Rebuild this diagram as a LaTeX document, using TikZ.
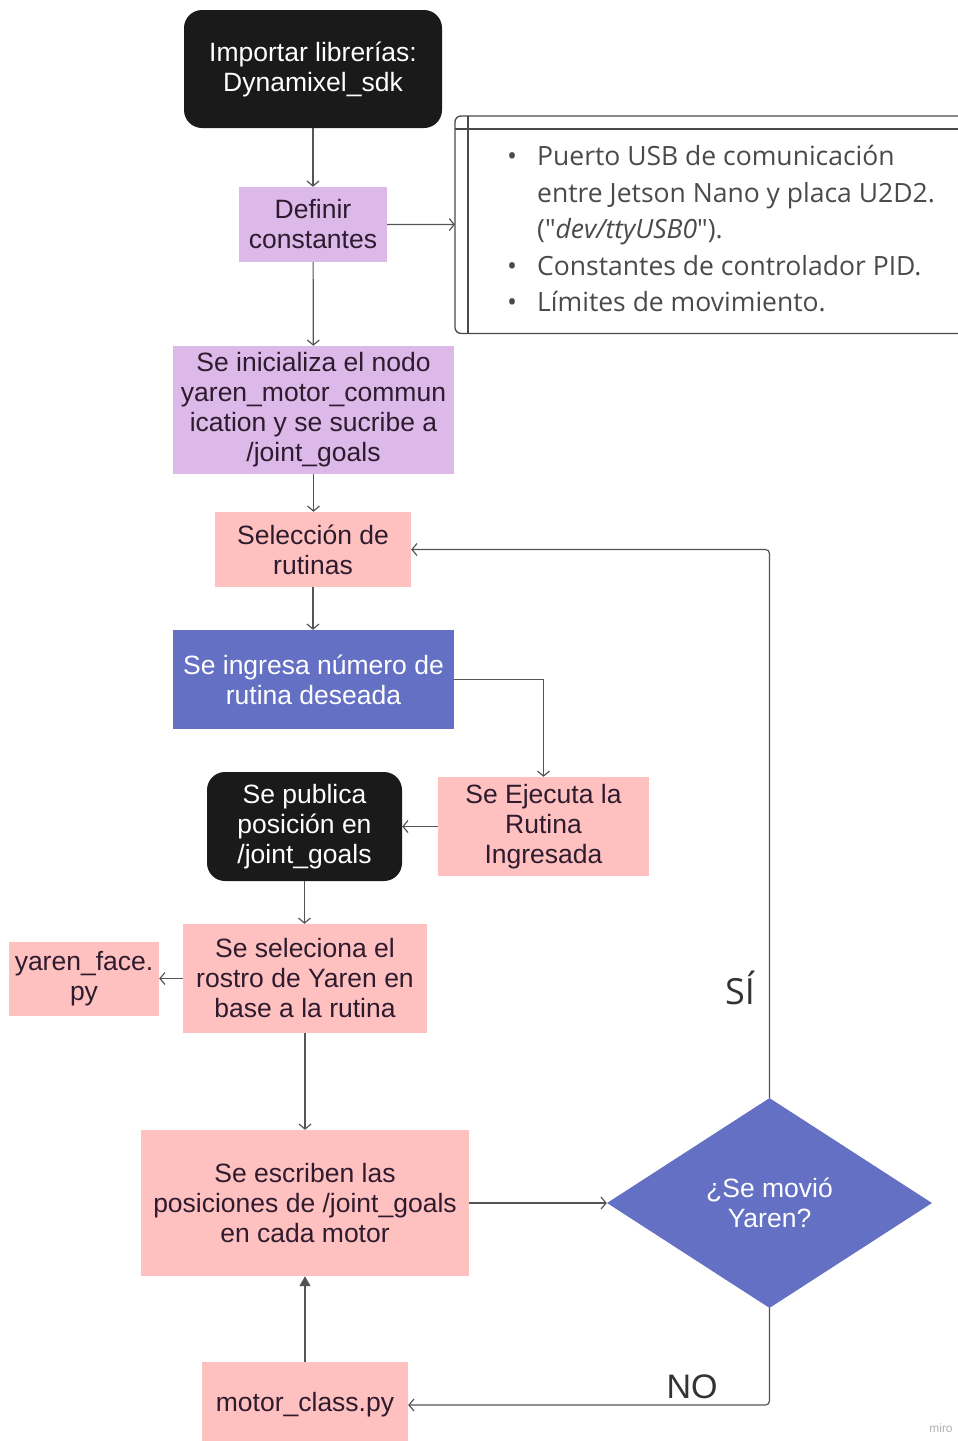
\documentclass[tikz,border=0pt]{standalone}
\usepackage{fontspec}
\setmainfont{Liberation Sans}
\newfontfamily\notefont{Open Sans}
\usetikzlibrary{shapes.geometric,arrows.meta}
\definecolor{lav}{HTML}{DCB9E8}
\definecolor{pinkb}{HTML}{FFC0C0}
\definecolor{blueb}{HTML}{6470C4}
\definecolor{blackb}{HTML}{1A1A1A}
\definecolor{darktxt}{HTML}{2E1B2E}
\definecolor{linec}{HTML}{555555}
\definecolor{notec}{HTML}{4A4A4A}
\tikzset{
  base/.style={inner sep=0pt, align=center, font=\fontsize{26.5}{30}\selectfont},
  lavbox/.style={base, fill=lav, text=darktxt},
  pinkbox/.style={base, fill=pinkb, text=darktxt},
  bluebox/.style={base, fill=blueb, text=white},
  blackbox/.style={base, fill=blackb, text=white, rounded corners=18pt},
  arr/.style={draw=linec, line width=1.2pt, -{Straight Barb[length=5pt,width=12pt]}},
  tri/.style={draw=linec, line width=1.6pt, -{Triangle[length=10pt,width=11pt]}},
  frame/.style={draw=notec, line width=1.3pt},
  lbl/.style={inner sep=0pt, text=black!80, font=\notefont\fontsize{36}{40}\selectfont}
}
\begin{document}
\begin{tikzpicture}[x=1pt,y=-1pt]
\useasboundingbox (0,0) rectangle (958,1441);
\clip (0,0) rectangle (958,1441);
\fill[white] (0,0) rectangle (958,1441);

\node[blackbox, minimum width=258pt, minimum height=118pt] (imp) at (313,69) {Importar librerías:\\Dynamixel\_sdk};
\node[lavbox, minimum width=148pt, minimum height=75pt] (def) at (313,224.5) {Definir\\constantes};
\node[inner sep=0pt, minimum width=505pt, minimum height=217pt, anchor=north west] (note) at (455,116) {};
\node[inner sep=0pt, anchor=base west, text=notec, font=\notefont\fontsize{26.5}{36.5}\selectfont] (notetext) at (537,165.5)
{\begin{tabular}[t]{@{}l@{}}
\llap{\makebox[50pt][c]{\textbullet}}Puerto USB de comunicación\\
entre Jetson Nano y placa U2D2.\\
("\textit{dev/ttyUSB0}").\\
\llap{\makebox[50pt][c]{\textbullet}}Constantes de controlador PID.\\
\llap{\makebox[50pt][c]{\textbullet}}Límites de movimiento.
\end{tabular}};
\node[lavbox, minimum width=281pt, minimum height=128pt] (ini) at (313.5,410) {Se inicializa el nodo\\yaren\_motor\_commun\\ication y se sucribe a\\/joint\_goals};
\node[pinkbox, minimum width=196pt, minimum height=75pt] (sel) at (313,549.5) {Selección de\\rutinas};
\node[bluebox, minimum width=281pt, minimum height=99pt] (ing) at (313.5,679.5) {Se ingresa número de\\rutina deseada};
\node[pinkbox, minimum width=211pt, minimum height=99pt] (eje) at (543.5,826.5) {Se Ejecuta la\\Rutina\\Ingresada};
\node[blackbox, minimum width=195pt, minimum height=109pt] (pub) at (304.5,826.5) {Se publica\\posición en\\/joint\_goals};
\node[pinkbox, minimum width=244pt, minimum height=109pt] (ros) at (305,978.5) {Se seleciona el\\rostro de Yaren en\\base a la rutina};
\node[pinkbox, minimum width=150pt, minimum height=74pt] (face) at (84,978.5) {yaren\_face.\\py};
\node[pinkbox, minimum width=328pt, minimum height=146pt] (esc) at (305,1203) {Se escriben las\\posiciones de /joint\_goals\\en cada motor};
\node[diamond, fill=blueb, text=white, inner sep=0pt, align=center, minimum width=325pt, minimum height=210pt, font=\fontsize{26.5}{30}\selectfont] (dia) at (769.5,1203) {¿Se movió\\Yaren?};
\node[pinkbox, minimum width=206pt, minimum height=86pt] (mot) at (305,1405) {motor\_class.py};

\node[lbl] (si) at (740,988) {SÍ};
\node[lbl, font=\fontsize{34}{40}\selectfont] (no) at (692,1387) {NO};
\node[inner sep=0pt, text=black!30, font=\fontsize{12}{14}\selectfont] (miro) at (941,1428) {miro};

% note frame
\draw[frame, rounded corners=6pt] (note.north east) -- (note.north west) -- (note.south west) -- (note.south east);
\draw[frame] ([xshift=13pt]note.north west) -- ([xshift=13pt]note.south west);
\draw[frame] ([yshift=-13pt]note.north west) -- ([yshift=-13pt]note.north east);

% connectors
\draw[arr] (imp) -- (def);
\draw[arr] (def) -- (note);
\draw[arr] (def) -- (ini);
\draw[arr] (ini.south) -- (ini.south |- sel.north);
\draw[arr] (sel.south) -- (sel.south |- ing.north);
\draw[arr] (ing.east) -| (eje.north);
\draw[arr] (eje.west) -- (pub.east);
\draw[arr] (pub.south) -- (pub.south |- ros.north);
\draw[arr] (ros.west) -- (face.east);
\draw[arr] (ros) -- (esc);
\draw[arr] (esc) -- (dia);
\draw[arr, rounded corners=4pt] (dia.north) |- (sel.east);
\draw[arr, rounded corners=4pt] (dia.south) |- (mot.east);
\draw[tri] (mot.north) -- (esc.south);
\end{tikzpicture}
\end{document}
